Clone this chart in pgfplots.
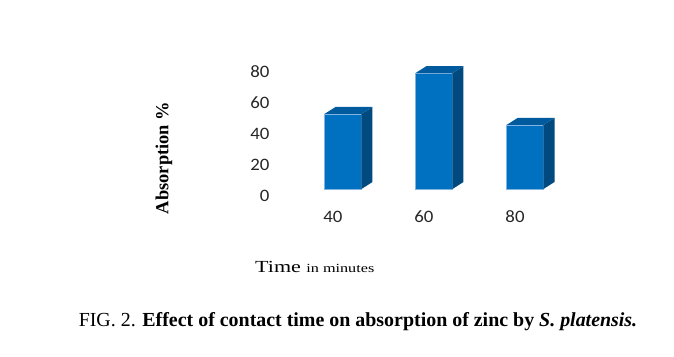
\documentclass[border=0pt]{standalone}
\usepackage{fontspec}
\setmainfont{Liberation Serif}
\newfontfamily\tickfont{Carlito}[FakeStretch=1.08]
\newfontfamily\stretchserif{Liberation Serif}[FakeStretch=1.3]
\usepackage{pgfplots}
\pgfplotsset{compat=1.18}
\definecolor{frontc}{RGB}{0,112,192}
\definecolor{sidec}{RGB}{0,74,128}
\definecolor{topc}{RGB}{0,90,158}
\definecolor{edgec}{RGB}{130,180,225}
\begin{document}
\begin{tikzpicture}[x=1bp,y=1bp]
\path[use as bounding box] (0,0) rectangle (674,356);
\begin{axis}[
  at={(272bp,167bp)}, anchor=south west,
  scale only axis, width=334bp, height=139.5bp,
  xmin=-0.67, xmax=3, ymin=0, ymax=90,
  clip=false,
  axis line style={draw=none}, tick style={draw=none},
  xtick={0,1,2}, xticklabels={40,60,80},
  ytick={0,20,40,60,80},
  /pgf/number format/assume math mode=true,
  ticklabel style={font=\tickfont\fontsize{17.5}{20}\selectfont, text=black!85},
  xticklabel style={anchor=center, yshift=-28bp},
  yticklabel style={anchor=east, yshift=-7bp, xshift=1bp},
]
% front faces
\addplot[ybar, bar width=37bp, bar shift=10bp, fill=frontc, draw=edgec, line width=0.6bp]
  coordinates {(0,48.4) (1,74.8) (2,41.3)};
% side faces
\addplot[fill=sidec, draw=none] coordinates {(0.313,0) (0.434,4.52) (0.434,52.92) (0.313,48.4)} -- cycle;
\addplot[fill=sidec, draw=none] coordinates {(1.313,0) (1.434,4.52) (1.434,79.32) (1.313,74.8)} -- cycle;
\addplot[fill=sidec, draw=none] coordinates {(2.313,0) (2.434,4.52) (2.434,45.82) (2.313,41.3)} -- cycle;
% top faces
\addplot[fill=topc, draw=none] coordinates {(-0.093,48.4) (0.313,48.4) (0.434,52.92) (0.028,52.92)} -- cycle;
\addplot[fill=topc, draw=none] coordinates {(0.907,74.8) (1.313,74.8) (1.434,79.32) (1.028,79.32)} -- cycle;
\addplot[fill=topc, draw=none] coordinates {(1.907,41.3) (2.313,41.3) (2.434,45.82) (2.028,45.82)} -- cycle;
\end{axis}
\node[rotate=90, font=\bfseries\fontsize{18.5}{22}\selectfont] at (164,198) {Absorption \%};
\node[anchor=base west, inner sep=0pt] at (255,84) {\stretchserif\fontsize{17}{20}\selectfont Time \fontsize{12.5}{15}\selectfont in minutes};
\node[font=\fontsize{20}{24}\selectfont] at (358,34) {FIG. 2. \textbf{Effect of contact time on absorption of zinc by \textit{S. platensis.}}};
\end{tikzpicture}
\end{document}
